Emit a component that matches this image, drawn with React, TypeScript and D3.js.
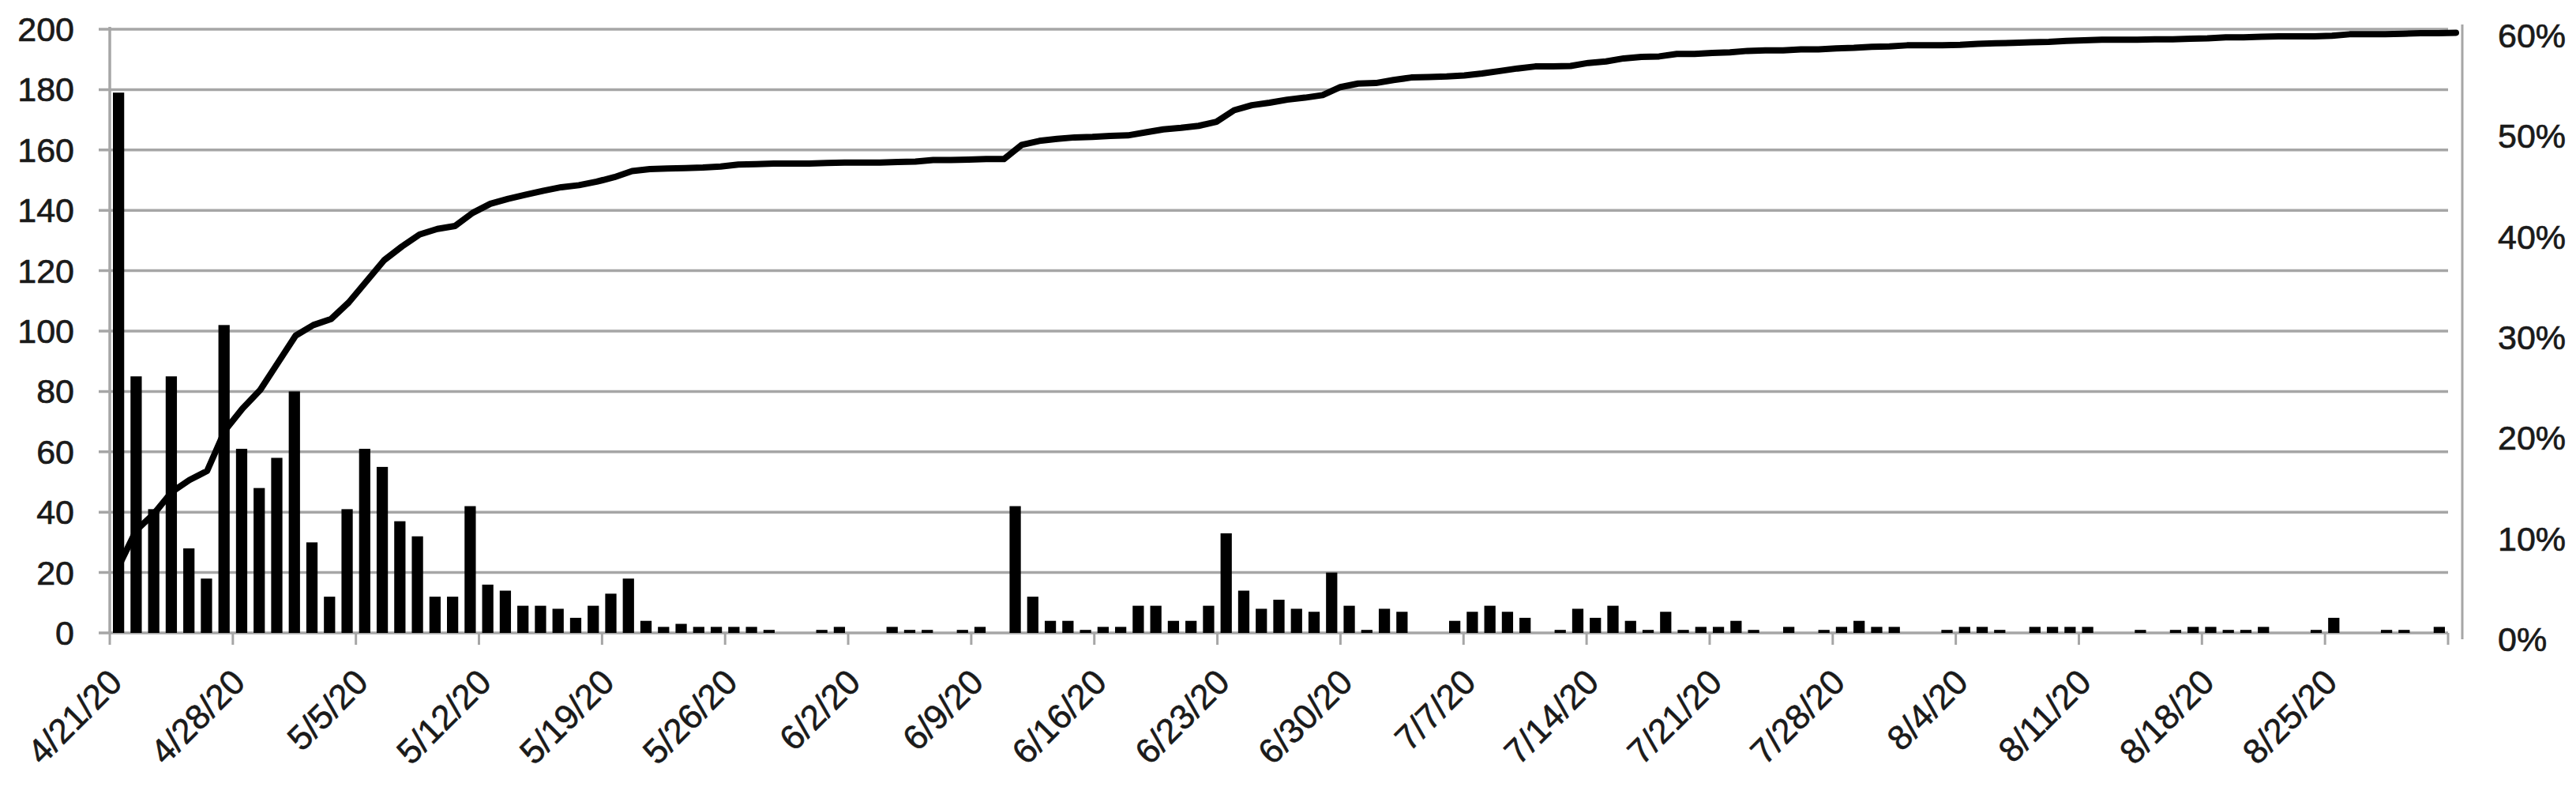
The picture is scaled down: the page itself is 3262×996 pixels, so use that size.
import React from 'react'
import * as d3 from 'd3'

// daily counts, 4/21/20 .. 8/31/20 (left axis)
const DAILY = [
  179, 85, 41, 85, 28, 18, 102, 61, 48, 58, 80, 30, 12, 41, 61, 55, 37, 32, 12, 12, 42,
  16, 14, 9, 9, 8, 5, 9, 13, 18, 4, 2, 3, 2, 2, 2, 2, 1, 0, 0, 1, 2,
  0, 0, 2, 1, 1, 0, 1, 2, 0, 42, 12, 4, 4, 1, 2, 2, 9, 9, 4, 4, 9,
  33, 14, 8, 11, 8, 7, 20, 9, 1, 8, 7, 0, 0, 4, 7, 9, 7, 5, 0, 1, 8,
  5, 9, 4, 1, 7, 1, 2, 2, 4, 1, 0, 2, 0, 1, 2, 4, 2, 2, 0, 0, 1,
  2, 2, 1, 0, 2, 2, 2, 2, 0, 0, 1, 0, 1, 2, 2, 1, 1, 2, 0, 0, 1,
  5, 0, 0, 1, 1, 0, 2,
]

// cumulative share, percent (right axis)
const CUMULATIVE = [
  6.6, 10.2, 11.85, 14.0, 15.2, 16.1, 20.1, 22.3, 24.15, 26.85, 29.55, 30.6, 31.2, 32.85,
  34.95, 37.05, 38.4, 39.6, 40.15, 40.45, 41.75, 42.65, 43.15, 43.55, 43.95, 44.3, 44.5,
  44.85, 45.3, 45.9, 46.1, 46.15, 46.2, 46.25, 46.35, 46.55, 46.6, 46.65, 46.65, 46.65,
  46.7, 46.75, 46.75, 46.75, 46.8, 46.85, 47.0, 47.0, 47.05, 47.1, 47.1, 48.5, 48.9, 49.1,
  49.25, 49.3, 49.4, 49.45, 49.75, 50.05, 50.2, 50.4, 50.8, 51.95, 52.45, 52.7, 53.0, 53.2,
  53.45, 54.25, 54.6, 54.65, 54.95, 55.2, 55.25, 55.3, 55.4, 55.6, 55.85, 56.1, 56.3, 56.3,
  56.35, 56.65, 56.8, 57.1, 57.25, 57.3, 57.55, 57.55, 57.65, 57.7, 57.85, 57.9, 57.9, 58.0,
  58.0, 58.1, 58.15, 58.25, 58.3, 58.4, 58.4, 58.4, 58.45, 58.55, 58.6, 58.65, 58.7, 58.75,
  58.85, 58.9, 58.95, 58.95, 58.95, 59.0, 59.0, 59.05, 59.1, 59.2, 59.2, 59.25, 59.3, 59.3,
  59.3, 59.35, 59.5, 59.5, 59.5, 59.55, 59.6, 59.6, 59.65,
]

// one label per week, first day of each week
const WEEK_LABELS = [
  '4/21/20', '4/28/20', '5/5/20', '5/12/20', '5/19/20', '5/26/20', '6/2/20', '6/9/20',
  '6/16/20', '6/23/20', '6/30/20', '7/7/20', '7/14/20', '7/21/20', '7/28/20', '8/4/20',
  '8/11/20', '8/18/20', '8/25/20',
]

const LEFT_TICKS = [0, 20, 40, 60, 80, 100, 120, 140, 160, 180, 200]
const RIGHT_TICKS = [0, 10, 20, 30, 40, 50, 60]

const W = 3262
const H = 996
const FONT = '"Liberation Sans", Arial, sans-serif'
const GRID = '#a6a6a6'
const INK = '#1a1a1a'

export default function App() {
  const left = 139
  const right = 3100
  const top = 37
  const bottom = 801

  const days = DAILY.map((_, i) => i)
  const x = d3.scaleBand<number>().domain(days).range([left, right]).paddingInner(0.36).paddingOuter(0.18)
  const xEdge = d3.scaleLinear().domain([0, DAILY.length]).range([left, right])
  const xLine = d3
    .scaleLinear()
    .domain([0, CUMULATIVE.length - 1])
    .range([x(0)! + x.bandwidth() / 2, right + 10])
  const yL = d3.scaleLinear().domain([0, 200]).range([bottom, top])
  const yR = d3.scaleLinear().domain([0, 60]).range([bottom, top])

  const line = d3
    .line<number>()
    .x((_, i) => xLine(i))
    .y((d) => yR(d))

  const tickDays = d3.range(0, DAILY.length + 1, 7)

  return (
    <svg
      width={W}
      height={H}
      viewBox={`0 0 ${W} ${H}`}
      style={{ position: 'absolute', left: 0, top: 0, background: '#fff' }}
      fontFamily={FONT}
    >
      {/* gridlines with left tick marks */}
      {LEFT_TICKS.map((v) => (
        <line key={v} x1={125} x2={right} y1={yL(v)} y2={yL(v)} stroke={GRID} strokeWidth={3.5} />
      ))}
      <line x1={left} x2={left} y1={top - 3} y2={bottom} stroke={GRID} strokeWidth={3.5} />
      <line x1={3118} x2={3118} y1={31} y2={809} stroke={GRID} strokeWidth={3} />

      {/* x ticks */}
      {tickDays.map((d) => (
        <line key={d} x1={xEdge(d)} x2={xEdge(d)} y1={bottom} y2={bottom + 15} stroke={GRID} strokeWidth={3} />
      ))}

      {/* bars */}
      {DAILY.map((v, i) =>
        v > 0 ? (
          <rect key={i} x={x(i)} y={yL(v)} width={x.bandwidth()} height={bottom - yL(v)} fill="#000" />
        ) : null
      )}

      {/* cumulative line */}
      <path
        d={line(CUMULATIVE) ?? ''}
        fill="none"
        stroke="#000"
        strokeWidth={8}
        strokeLinejoin="round"
        strokeLinecap="round"
      />

      {/* left axis labels */}
      {LEFT_TICKS.map((v) => (
        <text
          key={v}
          x={94}
          y={yL(v)}
          dominantBaseline="central"
          textAnchor="end"
          fontSize={43}
          fill={INK}
          stroke={INK}
          strokeWidth={0.7}
        >
          {v}
        </text>
      ))}

      {/* right axis labels */}
      {RIGHT_TICKS.map((p) => (
        <text
          key={p}
          x={3163}
          y={yR(p) + 8}
          dominantBaseline="central"
          textAnchor="start"
          fontSize={43}
          fill={INK}
          stroke={INK}
          strokeWidth={0.7}
        >
          {p}%
        </text>
      ))}

      {/* date labels */}
      {WEEK_LABELS.map((lab, k) => {
        const tx = xEdge(k * 7) + 18
        const ty = 866
        return (
          <text
            key={lab}
            x={tx}
            y={ty}
            transform={`rotate(-45 ${tx} ${ty})`}
            textAnchor="end"
            fontSize={44}
            fill={INK}
            stroke={INK}
            strokeWidth={0.6}
          >
            {lab}
          </text>
        )
      })}
    </svg>
  )
}
